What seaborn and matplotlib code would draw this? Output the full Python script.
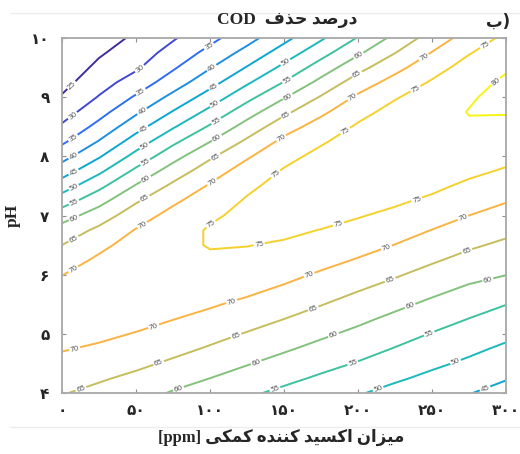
import numpy as np
import matplotlib
matplotlib.use("Agg")
import matplotlib.pyplot as plt
from matplotlib.path import Path
from matplotlib.lines import Line2D
import seaborn as sns

# ---------------- data ----------------
ppm_values = [0, 25, 50, 75, 100, 125, 150, 175, 200, 225, 250, 275, 300]
ph_values = [4.00, 4.25, 4.50, 4.75, 5.00, 5.25, 5.50, 5.75, 6.00, 6.25, 6.50, 6.75,
             7.00, 7.25, 7.50, 7.75, 8.00, 8.25, 8.50, 8.75, 9.00, 9.25, 9.50, 9.75, 10.00]
# COD removal (%) : one row per pH value, one column per ppm value
cod_removal = [
    [65.3, 63.6, 61.8, 59.6, 57.6, 55.8, 53.9, 52.1, 50.4, 48.5, 46.8, 45.2, 43.3],
    [67.1, 65.6, 63.9, 61.9, 60.0, 58.1, 56.2, 54.3, 52.6, 50.7, 48.9, 47.3, 45.3],
    [68.8, 67.6, 66.1, 64.2, 62.3, 60.3, 58.4, 56.5, 54.7, 52.8, 50.9, 49.2, 47.2],
    [70.3, 69.4, 68.0, 66.4, 64.5, 62.5, 60.6, 58.7, 56.8, 54.8, 52.8, 51.0, 49.2],
    [71.3, 70.9, 69.8, 68.4, 66.6, 64.7, 62.8, 60.8, 58.9, 56.8, 54.8, 52.9, 51.1],
    [71.9, 72.0, 71.3, 70.1, 68.7, 66.9, 65.0, 63.0, 61.0, 58.9, 56.9, 54.9, 53.0],
    [71.9, 72.6, 72.4, 71.7, 70.5, 69.0, 67.2, 65.2, 63.1, 61.1, 59.0, 57.0, 55.1],
    [71.3, 72.7, 73.2, 73.0, 72.2, 71.0, 69.3, 67.3, 65.3, 63.3, 61.2, 59.2, 57.6],
    [69.9, 72.0, 73.4, 73.8, 73.5, 72.7, 71.3, 69.4, 67.5, 65.5, 63.4, 61.4, 60.1],
    [67.7, 70.8, 73.0, 74.2, 74.5, 74.1, 73.1, 71.5, 69.7, 67.7, 65.6, 63.6, 62.1],
    [65.0, 68.8, 72.0, 74.1, 75.2, 75.1, 74.6, 73.3, 71.7, 69.9, 67.7, 65.7, 64.1],
    [62.0, 66.1, 70.3, 73.2, 75.4, 75.8, 75.7, 74.9, 73.7, 71.9, 69.9, 67.8, 66.1],
    [57.8, 62.5, 67.7, 71.6, 74.4, 76.0, 76.5, 76.2, 75.3, 74.0, 72.1, 70.0, 68.2],
    [52.6, 58.3, 64.4, 69.1, 72.8, 75.4, 76.7, 77.1, 76.7, 75.7, 74.2, 72.1, 70.3],
    [47.6, 53.7, 60.4, 66.0, 70.5, 74.2, 76.4, 77.4, 77.6, 77.2, 76.0, 74.1, 72.5],
    [42.7, 49.0, 56.1, 62.3, 67.7, 72.2, 75.4, 77.1, 78.0, 78.2, 77.5, 76.0, 74.5],
    [38.2, 44.5, 51.6, 58.2, 64.2, 69.4, 73.7, 76.2, 77.8, 78.7, 78.7, 77.6, 76.3],
    [34.1, 40.3, 47.3, 53.9, 59.9, 65.9, 71.2, 74.5, 77.0, 78.6, 79.4, 78.8, 77.9],
    [30.7, 36.5, 43.1, 49.5, 55.6, 62.0, 67.9, 72.1, 75.6, 78.0, 79.4, 79.7, 79.2],
    [27.8, 33.2, 39.2, 45.3, 51.4, 57.8, 63.9, 69.0, 73.5, 76.6, 78.8, 80.1, 80.2],
    [25.4, 30.3, 35.6, 41.3, 47.2, 53.5, 59.6, 65.4, 70.8, 74.6, 77.5, 79.7, 80.9],
    [23.5, 28.0, 32.2, 37.5, 43.2, 49.3, 55.2, 61.4, 67.4, 71.8, 75.5, 78.7, 80.6],
    [21.9, 26.1, 29.3, 34.4, 39.7, 45.3, 51.2, 57.3, 63.4, 68.5, 73.1, 76.9, 79.6],
    [20.4, 24.4, 27.5, 31.8, 36.5, 41.6, 47.3, 53.2, 59.2, 64.9, 70.2, 74.7, 78.0],
    [18.5, 22.6, 25.9, 29.5, 33.6, 38.2, 43.6, 49.3, 55.3, 61.3, 67.2, 72.1, 76.1],
]
contour_levels = [25, 30, 35, 40, 45, 50, 55, 60, 65, 70, 75, 80]
x_ticks = [0, 50, 100, 150, 200, 250, 300]
x_tick_labels = ["۰", "۵۰", "۱۰۰", "۱۵۰", "۲۰۰", "۲۵۰", "۳۰۰"]
y_ticks = [4, 5, 6, 7, 8, 9, 10]
y_tick_labels = ["۴", "۵", "۶", "۷", "۸", "۹", "۱۰"]

# Persian strings written in presentation forms, visual (left-to-right) order
title_text = "COD  \uFED1\uFEAC\uFEA3 \uFEAA\uFEBB\uFEAD\uFEA9"          # درصد حذف COD
xlabel_text = ("[ppm] \uFBFD\uFB91\uFEE4\uFB90 \uFEE9\uFEAA\uFEE8\uFEE8\uFB90 "
               "\uFEAA\uFBFF\uFEB4\uFB90\uFE8D \uFEE5\uFE8D\uFEB0\uFBFF\uFEE3")  # میزان اکسید کننده کمکی [ppm]
panel_text = "\uFE8F)"                                                  # ب)
ylabel_text = "pH"

# ---------------- style ----------------
sns.set_style("white")
plt.rcParams["font.family"] = ["DejaVu Sans"]
line_colors = sns.color_palette(["#3f2d9f", "#4148d0", "#2e6ef0", "#1d8ee0", "#0ca6d2", "#1bb8bc",
                                 "#3ec19e", "#83c27c", "#c5bd5e", "#fbb341", "#f5d12d", "#f7f414"])

fig = plt.figure(figsize=(5.2, 4.54), dpi=100)
ax = fig.add_axes([62 / 520, 1 - 393 / 454, 444 / 520, 355 / 454])

X, Y = np.meshgrid(np.array(ppm_values, float), np.array(ph_values, float))
Z = np.array(cod_removal, float)
cs = ax.contour(X, Y, Z, levels=contour_levels, colors=line_colors, linewidths=1.4)

ax.set_xlim(0, 300)
ax.set_ylim(4, 10)

# contour labels spaced along each line (positions taken from the contour paths)
fig.canvas.draw()
inv = ax.transData.inverted()
manual = []
for path in cs.get_paths():
    if len(path.vertices) < 2:
        continue
    codes = path.codes
    if codes is None:
        segs = [path.vertices]
    else:
        starts = np.where(codes == Path.MOVETO)[0]
        segs = np.split(path.vertices, starts[1:])
    for seg in segs:
        if len(seg) < 2:
            continue
        if seg[0, 0] > seg[-1, 0]:
            seg = seg[::-1]
        d = ax.transData.transform(seg)
        L = np.concatenate([[0], np.cumsum(np.hypot(*np.diff(d, axis=0).T))])
        total = L[-1]
        s = 13.0
        while s <= total - 13:
            px = np.interp(s, L, d[:, 0])
            py = np.interp(s, L, d[:, 1])
            manual.append(tuple(inv.transform((px, py))))
            s += 82.0
ax.clabel(cs, manual=manual, inline=True, inline_spacing=1, fontsize=5.2,
          colors="#555555", fmt="%d")

ax.set_xticks(x_ticks)
ax.set_xticklabels(x_tick_labels, fontweight="bold", fontsize=11)
ax.set_yticks(y_ticks)
ax.set_yticklabels(y_tick_labels, fontweight="bold", fontsize=11)
ax.tick_params(axis="both", direction="in", length=3, width=0.8, color="#8c8c8c",
               top=True, right=True, bottom=True, left=True)
ax.tick_params(axis="x", pad=7)
ax.tick_params(axis="y", pad=9)
for sp in ax.spines.values():
    sp.set_color("#a8a8a8")
    sp.set_linewidth(1.3)

fig.text(0.553, 0.955, title_text, ha="center", va="center", fontsize=12.5,
         fontweight="bold", family=["Liberation Serif", "DejaVu Sans"])
fig.text(0.957, 0.953, panel_text, ha="center", va="center", fontsize=12,
         fontweight="bold", family=["DejaVu Sans"])
fig.text(0.54, 0.037, xlabel_text, ha="center", va="center", fontsize=12,
         fontweight="bold", family=["Liberation Serif", "DejaVu Sans"])
fig.text(0.024, 0.525, ylabel_text, ha="center", va="center", rotation=90, fontsize=12.5,
         fontweight="bold", family=["Liberation Serif"])

# faint page rules seen in the reference scan
fig.add_artist(Line2D([0.02, 1.0], [1 - 13 / 454, 1 - 13 / 454], color="#ededed", lw=1.0))
fig.add_artist(Line2D([0.02, 1.0], [1 - 427 / 454, 1 - 427 / 454], color="#ededed", lw=1.0))

fig.savefig("out.png", dpi=100)
